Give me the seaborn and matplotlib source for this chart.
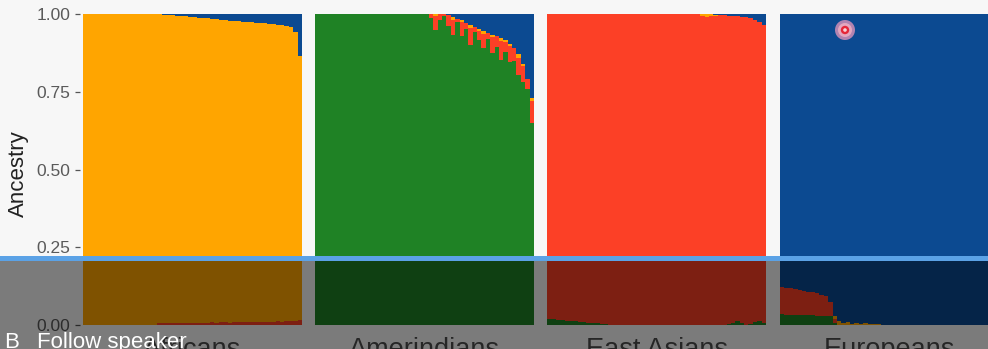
import numpy as np
import pandas as pd
import seaborn as sns
import matplotlib.pyplot as plt
from matplotlib.patches import Rectangle, Circle
from matplotlib.transforms import IdentityTransform

# ---------------------------------------------------------------- data
GROUPS = ["Africans", "Amerindians", "East Asians", "Europeans"]
# ancestry components, stacked bottom -> top
ANCESTRY = ["Amerindian", "East Asian", "African", "European"]
COLORS = {"Amerindian": "#1F8225", "East Asian": "#FC4026",
          "African": "#FFA500", "European": "#0C4A91"}
MAJOR = {"Africans": "African", "Amerindians": "Amerindian",
         "East Asians": "East Asian", "Europeans": "European"}
Y_TICKS = [0.0, 0.25, 0.50, 0.75, 1.0]
Y_TICK_LABELS = ["0.00", "0.25", "0.50", "0.75", "1.00"]

# minor ancestry proportions per individual (50 per group, sorted)
AFR_RED = [0, 0, 0, 0, 0, 0, 0, 0, 0, 0,
           0, 0, 0, 0, 0, 0, 0, 0.005, 0.006, 0.006,
           0.007, 0.006, 0.007, 0.008, 0.007, 0.008, 0.008, 0.007, 0.008, 0.009,
           0.008, 0.009, 0.009, 0.008, 0.009, 0.010, 0.009, 0.010, 0.010, 0.009,
           0.010, 0.011, 0.010, 0.011, 0.012, 0.011, 0.012, 0.013, 0.014, 0.016]
AFR_BLUE = [0, 0, 0, 0, 0, 0, 0, 0, 0, 0,
            0, 0, 0, 0, 0, 0, 0, 0, 0.002, 0.003,
            0.004, 0.005, 0.006, 0.008, 0.009, 0.010, 0.012, 0.013, 0.014, 0.016,
            0.017, 0.018, 0.020, 0.021, 0.023, 0.024, 0.025, 0.026, 0.027, 0.028,
            0.029, 0.030, 0.031, 0.033, 0.034, 0.036, 0.038, 0.042, 0.058, 0.135]

AME_RED = [0, 0, 0, 0, 0, 0, 0, 0, 0, 0,
           0, 0, 0, 0, 0, 0, 0, 0, 0, 0,
           0, 0, 0, 0, 0, 0, 0.012, 0.045, 0.020, 0.006,
           0.035, 0.050, 0.010, 0.045, 0.020, 0.055, 0.015, 0.030, 0.045, 0.020,
           0.050, 0.035, 0.060, 0.030, 0.050, 0.040, 0.055, 0.050, 0.030, 0.070]
AME_ORANGE = [0, 0, 0, 0, 0, 0, 0, 0, 0, 0,
              0, 0, 0, 0, 0, 0, 0, 0, 0, 0,
              0, 0, 0, 0, 0, 0, 0, 0.006, 0, 0,
              0, 0.008, 0, 0.006, 0, 0.010, 0, 0.006, 0.008, 0,
              0.008, 0, 0.010, 0.006, 0.008, 0, 0.010, 0.008, 0, 0.010]
AME_BLUE = [0, 0, 0, 0, 0, 0, 0, 0, 0, 0,
            0, 0, 0, 0, 0, 0, 0, 0, 0, 0,
            0, 0, 0, 0, 0, 0, 0, 0, 0, 0,
            0.004, 0.010, 0.015, 0.020, 0.028, 0.035, 0.042, 0.048, 0.055, 0.060,
            0.066, 0.072, 0.078, 0.085, 0.095, 0.110, 0.130, 0.160, 0.210, 0.270]

EAS_GREEN = [0.020, 0.018, 0.017, 0.016, 0.014, 0.013, 0.012, 0.011, 0.010, 0.008,
             0.007, 0.005, 0.004, 0.002, 0.001, 0, 0, 0, 0, 0,
             0, 0, 0, 0, 0, 0, 0, 0, 0, 0,
             0, 0, 0, 0, 0, 0, 0, 0, 0, 0,
             0, 0.002, 0.008, 0.012, 0.006, 0, 0.003, 0.010, 0.013, 0.006]
EAS_ORANGE = [0, 0, 0, 0, 0, 0, 0, 0, 0, 0,
              0, 0, 0, 0, 0, 0, 0, 0, 0, 0,
              0, 0, 0, 0, 0, 0, 0, 0, 0, 0,
              0, 0, 0, 0, 0, 0.006, 0.010, 0.008, 0.004, 0,
              0, 0, 0, 0, 0, 0, 0, 0, 0, 0]
EAS_BLUE = [0, 0, 0, 0, 0, 0, 0, 0, 0, 0,
            0, 0, 0, 0, 0, 0, 0, 0, 0, 0,
            0, 0, 0, 0, 0, 0, 0, 0, 0, 0,
            0, 0, 0, 0, 0, 0, 0, 0, 0.002, 0.003,
            0.004, 0.005, 0.006, 0.007, 0.009, 0.011, 0.014, 0.018, 0.025, 0.035]

EUR_GREEN = [0.034, 0.033, 0.033, 0.032, 0.032, 0.032, 0.031, 0.031, 0.030, 0.030,
             0.030, 0.028, 0.008, 0, 0, 0, 0, 0, 0, 0,
             0, 0, 0, 0, 0, 0, 0, 0, 0, 0,
             0, 0, 0, 0, 0, 0, 0, 0, 0, 0,
             0, 0, 0, 0, 0, 0, 0, 0, 0, 0]
EUR_RED = [0.088, 0.086, 0.085, 0.083, 0.080, 0.078, 0.076, 0.074, 0.072, 0.068,
           0.062, 0.045, 0.010, 0, 0, 0, 0, 0, 0, 0,
           0, 0, 0, 0, 0, 0, 0, 0, 0, 0,
           0, 0, 0, 0, 0, 0, 0, 0, 0, 0,
           0, 0, 0, 0, 0, 0, 0, 0, 0, 0]
EUR_ORANGE = [0, 0, 0, 0, 0, 0, 0, 0, 0, 0,
              0, 0, 0.010, 0.012, 0.006, 0.010, 0.004, 0.008, 0.003, 0.006,
              0.004, 0.003, 0.002, 0, 0, 0, 0, 0, 0, 0,
              0, 0, 0, 0, 0, 0, 0, 0, 0, 0,
              0, 0, 0, 0, 0, 0, 0, 0, 0, 0]

MINOR = {
    "Africans": {"East Asian": AFR_RED, "European": AFR_BLUE},
    "Amerindians": {"East Asian": AME_RED, "African": AME_ORANGE, "European": AME_BLUE},
    "East Asians": {"Amerindian": EAS_GREEN, "African": EAS_ORANGE, "European": EAS_BLUE},
    "Europeans": {"Amerindian": EUR_GREEN, "East Asian": EUR_RED, "African": EUR_ORANGE},
}

# ---------------------------------------------------------------- figure
sns.set_theme(style="white")
plt.rcParams["font.family"] = ["Liberation Sans", "DejaVu Sans"]

W, H = 988, 349
BG = "#F7F7F7"
fig = plt.figure(figsize=(W / 100, H / 100), dpi=100, facecolor=BG)


def axes_px(left, top, width, height):
    return fig.add_axes([left / W, 1 - (top + height) / H, width / W, height / H])


panel_left = [80, 312, 544, 777]
panel_top, panel_w, panel_h = 14, 225, 311
pad_bars = 0.685  # space between panel edge and first/last bar, in bar units

axes = []
for i, group in enumerate(GROUPS):
    ax = axes_px(panel_left[i], panel_top, panel_w, panel_h)
    ax.set_facecolor("none")
    axes.append(ax)

    minor = MINOR[group]
    n = len(next(iter(minor.values())))
    df = pd.DataFrame({"individual": np.arange(n)})
    for anc in ANCESTRY:
        df[anc] = np.asarray(minor.get(anc, np.zeros(n)), dtype=float)
    others = [a for a in ANCESTRY if a != MAJOR[group]]
    df[MAJOR[group]] = 1.0 - df[others].sum(axis=1)

    cum = df[ANCESTRY].cumsum(axis=1)
    # tallest cumulative layer first, lower layers drawn on top
    for anc in reversed(ANCESTRY):
        keep = df[anc] > 0
        layer = pd.DataFrame({"individual": df.loc[keep, "individual"],
                              "top": cum.loc[keep, anc]})
        if layer.empty:
            continue
        sns.barplot(data=layer, x="individual", y="top", order=list(range(n)),
                    color=COLORS[anc], saturation=1, width=1, errorbar=None,
                    linewidth=0, ax=ax)
    # crisp, seamless tiling of neighbouring bars
    for p in ax.patches:
        p.set_antialiased(False)

    ax.set_xlim(-0.5 - pad_bars, n - 0.5 + pad_bars)
    ax.set_ylim(0, 1)
    ax.set_xticks([])
    ax.set_xlabel("")
    ax.set_ylabel("")
    for s in ax.spines.values():
        s.set_visible(False)
    if i == 0:
        ax.set_yticks(Y_TICKS)
        ax.set_yticklabels(Y_TICK_LABELS)
        ax.tick_params(axis="y", left=True, length=3.6, width=0.9,
                       color="#555555", pad=3.6, labelsize=12.5,
                       labelcolor="#5A5A5A")
    else:
        ax.set_yticks([])

    # group label under each panel
    cx = panel_left[i] + panel_w / 2
    fig.text(cx / W, (H - 357) / H, group, ha="center", va="baseline",
             fontsize=19.5, color="#4D4D4D")

fig.text(18.5 / W, (H - 173.5) / H, "Ancestry", rotation=90,
         ha="center", va="center", fontsize=16, color="#222222")

# laser pointer
for r, c, a in [(10, "#C58AB4", 0.9), (7, "#E7A9C0", 0.95),
                (4.2, "#E52638", 1.0), (1.8, "#F8D2D6", 1.0)]:
    fig.add_artist(Circle((845, H - 30), r, transform=IdentityTransform(),
                          facecolor=c, edgecolor="none", alpha=a, zorder=9))

# video caption bar
line_y = 255.5
fig.add_artist(Rectangle((0, 0), 1, (H - line_y - 5) / H, transform=fig.transFigure,
                         facecolor="black", edgecolor="none", alpha=0.5, zorder=10))
fig.add_artist(Rectangle((0, (H - line_y - 5) / H), 1, 5 / H, transform=fig.transFigure,
                         facecolor="#5BA2E6", edgecolor="none", zorder=12))
fig.text(4 / W, 1 / H, "B", ha="left", va="baseline", fontsize=16,
         color="white", zorder=11)
fig.text(37 / W, 1 / H, "Follow speaker", ha="left", va="baseline",
         fontsize=16, color="white", zorder=11)

fig.savefig("out.png", dpi=100, facecolor=BG)
